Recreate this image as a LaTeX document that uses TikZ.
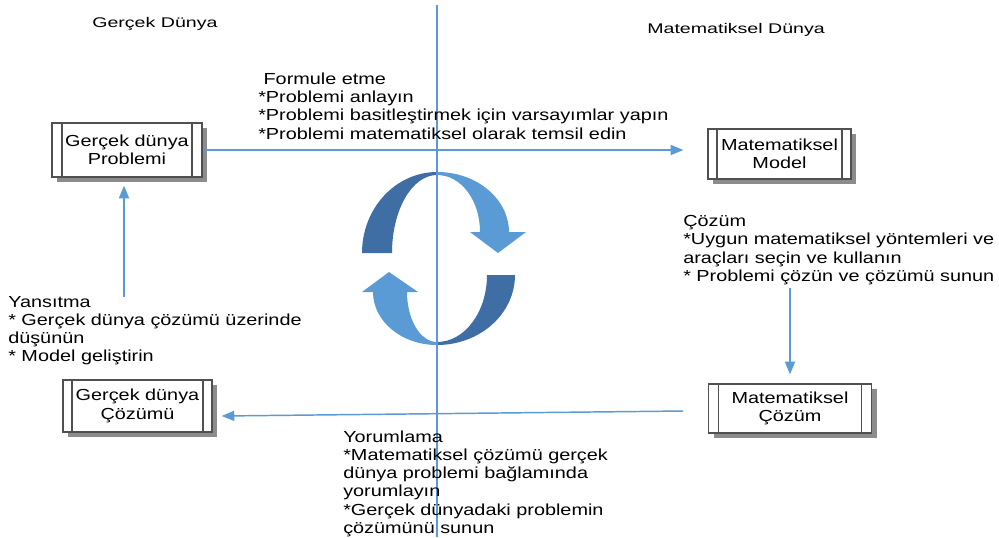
\documentclass[tikz,border=0pt]{standalone}
\usepackage{fontspec}
\setmainfont{Liberation Sans}
\newfontfamily\bodyfont[FakeStretch=1.24]{Liberation Sans}
\newfontfamily\titlefont[FakeStretch=1.4]{Liberation Sans}
\newcommand\bodytext{\bodyfont\fontsize{12}{13.7}\selectfont}
\newcommand\titletext{\titlefont\fontsize{10.5}{12}\selectfont}
\usetikzlibrary{arrows.meta,shadows}
\definecolor{lineblue}{RGB}{91,155,213}
\definecolor{arrowdark}{RGB}{62,110,164}
\definecolor{arrowlight}{RGB}{91,155,213}
\definecolor{boxline}{RGB}{80,80,80}
\definecolor{boxshadow}{RGB}{140,140,140}
\tikzset{
  ppbox/.style={draw=boxline, line width=0.9pt, fill=white, inner sep=0pt,
    align=center, font=\bodytext,
    drop shadow={shadow xshift=3.75pt, shadow yshift=-3.75pt, fill=boxshadow, opacity=1},
    path picture={\draw[boxline, line width=0.9pt]
      ([xshift=#1]path picture bounding box.north west) -- ([xshift=#1]path picture bounding box.south west)
      ([xshift=-#1]path picture bounding box.north east) -- ([xshift=-#1]path picture bounding box.south east);}},
  ppbox/.default=7pt,
  conn/.style={draw=lineblue, line width=1.1pt, -{Triangle[length=9.5pt,width=7.5pt]}},
  textblock/.style={anchor=base west, inner sep=0pt, font=\bodytext},
  titleblock/.style={anchor=base west, inner sep=0pt, font=\titletext}
}
\begin{document}
\begin{tikzpicture}[x=0.75pt,y=-0.75pt]
\useasboundingbox[fill=white] (0,0) rectangle (999,537);

% circular arrows
\fill[arrowdark] (362,253) .. controls (362,208.3) and (395.6,172) .. (437,172)
  -- (437,175) .. controls (412.1,175) and (392,209.9) .. (392,253) -- cycle;
\fill[arrowlight] (437,172) .. controls (478,172) and (509,200) .. (509,232)
  -- (526,232) -- (498,253) -- (470,232) -- (480,232)
  .. controls (480,200) and (461,175) .. (437,175) -- cycle;
\fill[arrowdark] (515,275) .. controls (515,313.7) and (480,345) .. (437,345)
  -- (437,342) .. controls (464.6,342) and (487,312) .. (487,275) -- cycle;
\fill[arrowlight] (437,345) .. controls (401.7,345) and (373,321.3) .. (373,292)
  -- (362,292) -- (389,272) -- (418,292) -- (407,292)
  .. controls (407,319.6) and (420.4,342) .. (437,342) -- cycle;

% divider
\coordinate (dtop) at (437,5);
\coordinate (dbot) at (437,537);
\draw[lineblue, line width=1.2pt] (dtop) -- (dbot);

% titles
\node[titleblock] (tl) at (92,27.7) {Gerçek Dünya};
\node[titleblock] (tr) at (647,33) {Matematiksel Dünya};

% boxes
\node[ppbox=7.5pt, minimum width=112.5pt, minimum height=40.5pt] (b1) at (127,150) {Gerçek dünya\\Problemi};
\node[ppbox=6.75pt, minimum width=107.25pt, minimum height=37.5pt] (b2) at (779.5,154) {Matematiksel\\Model};
\node[ppbox=7.5pt, minimum width=122.25pt, minimum height=36.75pt] (b3) at (790,408.5) {Matematiksel\\Çözüm};
\node[ppbox=6.75pt, minimum width=111.75pt, minimum height=39pt] (b4) at (137.5,406) {Gerçek dünya\\Çözümü};

% text blocks
\node[textblock] (tf) at (258,84.3) {\parbox[t]{400pt}{\raggedright
  \hspace{4pt}Formule etme\\
  {*}Problemi anlayın\\
  {*}Problemi basitleştirmek için varsayımlar yapın\\
  {*}Problemi matematiksel olarak temsil edin}};
\node[textblock] (tc) at (683,226.7) {\parbox[t]{300pt}{\raggedright
  Çözüm\\
  {*}Uygun matematiksel yöntemleri ve\\
  araçları seçin ve kullanın\\
  {*} Problemi çözün ve çözümü sunun}};
\node[textblock] (ty) at (8,307) {\parbox[t]{300pt}{\raggedright
  Yansıtma\\
  {*} Gerçek dünya çözümü üzerinde\\
  düşünün\\
  {*} Model geliştirin}};
\node[textblock] (to) at (343,442) {\parbox[t]{300pt}{\raggedright
  Yorumlama\\
  {*}Matematiksel çözümü gerçek\\
  dünya problemi bağlamında\\
  yorumlayın\\
  {*}Gerçek dünyadaki problemin\\
  çözümünü sunun}};

% connectors
\draw[conn] (b1.east) -- ([xshift=-18pt,yshift=3pt]b2.west);
\coordinate (r0) at (790,288);
\draw[conn, shorten >=6.75pt] (r0) -- (b3.north);
\coordinate (l0) at (124,297);
\draw[conn, shorten >=6pt] (l0) -- (l0 |- b1.south);
\coordinate (m0) at (683,411);
\draw[conn] (m0) -- ([xshift=6.75pt,yshift=-7.5pt]b4.east);
\end{tikzpicture}
\end{document}
